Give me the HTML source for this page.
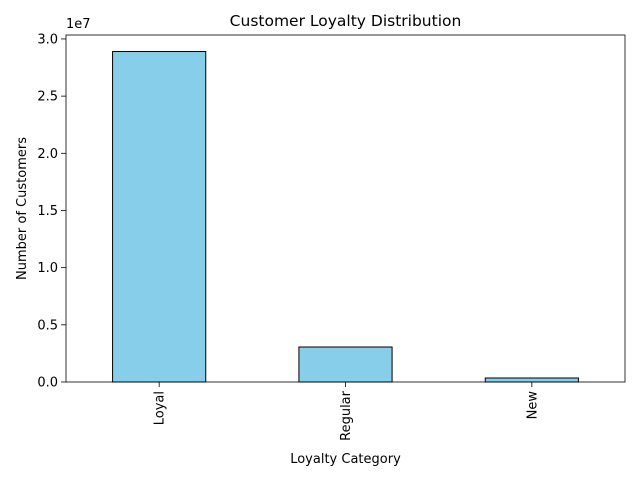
<!DOCTYPE html>
<html><head><meta charset="utf-8"><style>
body{margin:0;background:#fff;font-family:"Liberation Sans","DejaVu Sans",sans-serif;}
svg text{font-family:"DejaVu Sans","Liberation Sans",sans-serif;}
</style></head><body>
<svg id="chart" width="640" height="480" xmlns="http://www.w3.org/2000/svg">
<rect width="640" height="480" fill="#fff"/>
<g id="plot"></g>
</svg>
<script>
const categories = ["Loyal", "Regular", "New"];
const values = [28900000, 3060000, 350000];
const yTicks = [0, 5000000, 10000000, 15000000, 20000000, 25000000, 30000000];
const yTickLabels = ["0.0", "0.5", "1.0", "1.5", "2.0", "2.5", "3.0"];

const L=66,R=625,T=35,B=382;
const ns="http://www.w3.org/2000/svg";
const g=document.getElementById('plot');
const ymax=Math.max(...values)*1.05;
const y=v=>B-(v/ymax)*(B-T);
const step=(R-L)/categories.length;
const x=i=>L+step*(i+0.5);
function mk(t,a,p){const e=document.createElementNS(ns,t);for(const k in a)e.setAttribute(k,a[k]);(p||g).appendChild(e);return e;}

categories.forEach((c,i)=>{
  const bw=step*0.5;
  const r=mk('rect',{x:x(i)-bw/2,y:y(values[i]),width:bw,height:B-y(values[i]),fill:'#87ceeb',stroke:'#000','stroke-width':1});
  
  
  mk('line',{x1:x(i),x2:x(i),y1:B,y2:B+5,stroke:'#000','stroke-width':0.8});
  const t=mk('text',{x:0,y:0,'font-size':13,'text-anchor':'end',transform:`translate(${x(i)+4.5},${B+9}) rotate(-90)`});
  t.textContent=c;
  
  
});
yTicks.forEach((v,i)=>{
  mk('line',{x1:L-5,x2:L,y1:y(v),y2:y(v),stroke:'#000','stroke-width':0.8});
  const t=mk('text',{x:L-8,y:y(v)+4.5,'font-size':13,'text-anchor':'end'});
  t.textContent=yTickLabels[i];
  
  
});
const fr=mk('rect',{x:L,y:T,width:R-L,height:B-T,fill:'none',stroke:'#000','stroke-width':0.8});


const ex=mk('text',{x:L,y:T-7,'font-size':13});ex.textContent='1e7';


const ti=mk('text',{x:(L+R)/2,y:T-9,'font-size':15.5,'text-anchor':'middle'});ti.textContent='Customer Loyalty Distribution';


const xl=mk('text',{x:(L+R)/2,y:463,'font-size':13,'text-anchor':'middle'});xl.textContent='Loyalty Category';


const yl=mk('text',{x:0,y:0,'font-size':13,'text-anchor':'middle',transform:`translate(26,${(T+B)/2}) rotate(-90)`});yl.textContent='Number of Customers';


</script>
</body></html>
